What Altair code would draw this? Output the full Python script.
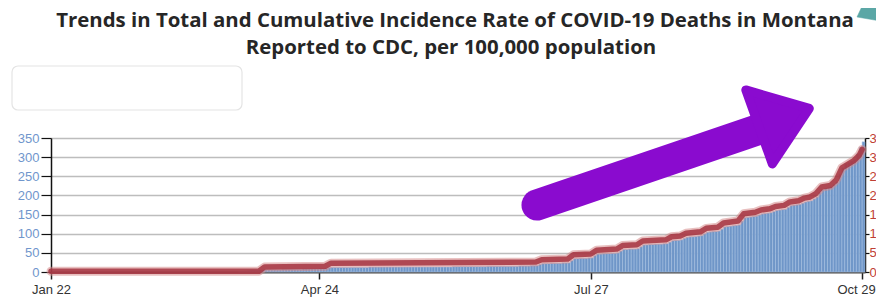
import altair as alt
import pandas as pd

# ---------------- data ----------------
bar_start = "2020-03-27"   # first day with a visible (non-zero) bar; earlier days are 0
mar = [1, 1, 2, 3, 4]
apr = [4, 4, 5, 5, 6, 6, 6, 6, 6, 6, 7, 7, 7, 7, 7, 7, 7, 8, 8, 8, 8, 8, 8, 9, 9,
       10, 12, 12, 12, 12]
may = [12, 12, 12, 12, 12, 12, 12, 12, 12, 12, 13, 13, 13, 13, 13, 13, 13, 13, 13, 13,
       13, 13, 13, 13, 13, 13, 13, 13, 13, 13, 13]
jun = [13, 13, 13, 13, 13, 13, 13, 13, 14, 14, 14, 14, 14, 14, 14, 14, 14, 14, 14, 14,
       15, 15, 15, 15, 15, 15, 15, 15, 15, 15]
jul = [15, 16, 16, 16, 16, 17, 17, 17, 20, 22, 22, 22, 23, 23, 23, 23, 24, 24, 24,
       30, 35, 35, 36, 36, 36, 37, 37, 43, 47, 47, 48]
aug = [48, 48, 49, 49, 50, 55, 59, 59, 60, 60, 60, 61, 66, 71, 71, 72, 72, 73, 73, 73,
       74, 74, 78, 82, 83, 83, 84, 88, 91, 92, 92]
sep = [93, 94, 95, 100, 104, 105, 106, 106, 107, 112, 118, 119, 120, 121, 122, 123,
       133, 142, 143, 144, 145, 146, 149, 152, 153, 154, 155, 158, 161, 162]
oct_ = [163, 164, 169, 174, 175, 176, 177, 180, 183, 185, 186, 191, 196, 208, 215, 218,
        220, 222, 228, 235, 255, 272, 283, 286, 290, 294, 309, 326, 340]
bar_values = mar + apr + may + jun + jul + aug + sep + oct_

line_dates = ["2020-01-22", "2020-04-03", "2020-04-05", "2020-04-26", "2020-04-28",
              "2020-07-08", "2020-07-10", "2020-07-19", "2020-07-21", "2020-07-27",
              "2020-07-29", "2020-08-05", "2020-08-07", "2020-08-12", "2020-08-14",
              "2020-08-22", "2020-08-24", "2020-08-27", "2020-08-29", "2020-09-03",
              "2020-09-05", "2020-09-09", "2020-09-11", "2020-09-16", "2020-09-18",
              "2020-09-22", "2020-09-24", "2020-09-27", "2020-09-29", "2020-10-02",
              "2020-10-04", "2020-10-07", "2020-10-09", "2020-10-11", "2020-10-13",
              "2020-10-15", "2020-10-18", "2020-10-20", "2020-10-22", "2020-10-26",
              "2020-10-28", "2020-10-29"]
line_rates = [0.2, 0.2, 1.3, 1.5, 2.3, 2.6, 3.2, 3.4, 4.5, 4.7, 5.7, 6.0, 6.9, 7.1, 8.1,
              8.4, 9.2, 9.4, 10.1, 10.5, 11.4, 11.7, 12.8, 13.3, 15.2, 15.6, 16.2, 16.5,
              17.1, 17.4, 18.3, 18.6, 19.3, 19.6, 20.5, 22.2, 22.6, 24.0, 27.2, 29.0,
              30.5, 32.0]

x_ticks = [(2020, 1, 22), (2020, 4, 24), (2020, 7, 27), (2020, 10, 29)]
left_ticks = [0, 50, 100, 150, 200, 250, 300, 350]
right_ticks = [0, 5, 10, 15, 20, 25, 30, 35]
title_line1 = "Trends in Total and Cumulative Incidence Rate of COVID-19 Deaths in Montana"
title_line2 = "Reported to CDC, per 100,000 population"

# ---------------- tables ----------------
bar_df = pd.DataFrame({
    "date": pd.date_range(bar_start, periods=len(bar_values), freq="D").strftime("%Y-%m-%d"),
    "deaths": bar_values,
})
line_df = pd.DataFrame({"date": line_dates, "rate": line_rates})
one = pd.DataFrame({"k": [0]})

W, H = 814, 134
AXIS_FONT = "Liberation Sans"

xscale = alt.Scale(type="utc", nice=False,
                   domain=[alt.DateTime(year=2020, month=1, date=22, utc=True),
                           alt.DateTime(year=2020, month=10, date=30, utc=True)])
x_axis = alt.Axis(values=[alt.DateTime(year=y, month=m, date=d, utc=True) for y, m, d in x_ticks],
                  format="%b %d", title=None, grid=False, labelFont=AXIS_FONT, labelFontSize=13,
                  labelColor="#333333", tickColor="#222222", tickSize=7, tickWidth=1.5,
                  domainColor="#555555", domainWidth=2, labelPadding=4, labelFlush=False,
                  labelOffset={"condition": {"test": "utcmonth(datum.value) == 9", "value": -6},
                               "value": 0})

left_axis = alt.Axis(values=left_ticks, title=None, grid=True, gridColor="#bdbdbd", gridWidth=1.5,
                     labelFont=AXIS_FONT, labelFontSize=13, labelColor="#7096cc",
                     domainColor="#111111", domainWidth=1.5, tickColor="#111111", tickSize=10,
                     tickWidth=1.2, labelPadding=2)

right_axis = alt.Axis(values=right_ticks, orient="right", title=None, grid=False,
                      labelFont=AXIS_FONT, labelFontSize=13, labelColor="#bf3f34",
                      domainColor="#111111", domainWidth=1.5, tickColor="#111111", tickSize=4,
                      tickWidth=1.2, labelPadding=0,
                      labelExpr="substring(datum.label, 0, 1)")

bars = alt.Chart(bar_df).transform_calculate(
    end="timeOffset('date', datum.date, 1)"
).mark_bar(fill="#6f96c8", stroke="#a9c2e2", strokeWidth=0.5).encode(
    x=alt.X("date:T", scale=xscale, axis=x_axis),
    x2="end:T",
    y=alt.Y("deaths:Q", scale=alt.Scale(domain=[0, 350]), axis=left_axis),
    y2=alt.datum(0),
)

glow = alt.Chart(line_df).mark_line(color="#d58b8b", strokeWidth=9, opacity=0.55,
                                    strokeJoin="round", strokeCap="round").encode(
    x=alt.X("date:T", scale=xscale),
    y=alt.Y("rate:Q", scale=alt.Scale(domain=[0, 35]), axis=None),
)
core = alt.Chart(line_df).mark_line(color="#a53340", strokeWidth=5.5, opacity=0.85,
                                    strokeJoin="round", strokeCap="round").encode(
    x=alt.X("date:T", scale=xscale),
    y=alt.Y("rate:Q", scale=alt.Scale(domain=[0, 35]), axis=right_axis),
)

# ---------------- title and decorations of the slide ----------------
TITLE_FONT = "Open Sans"
t1 = alt.Chart(one).mark_text(font=TITLE_FONT, fontSize=20.4, fontWeight="bold", color="#262626",
                              align="center", baseline="alphabetic").encode(
    x=alt.value(404), y=alt.value(-111), text=alt.value(title_line1))
t2 = alt.Chart(one).mark_text(font=TITLE_FONT, fontSize=20.4, fontWeight="bold", color="#262626",
                              align="center", baseline="alphabetic").encode(
    x=alt.value(400), y=alt.value(-84), text=alt.value(title_line2))

PURPLE = "#8a0bcf"
shaft = alt.Chart(one).mark_rule(color=PURPLE, strokeWidth=31, strokeCap="round").encode(
    x=alt.value(486), y=alt.value(67), x2=alt.value(712), y2=alt.value(-10))
head = alt.Chart(one).mark_point(
    shape="M33.3,-12.3L-30.2,-30.8L-3.7,43.3Z", size=4, filled=True, fill=PURPLE,
    stroke=PURPLE, strokeWidth=9, strokeJoin="round", opacity=1).encode(
    x=alt.value(725), y=alt.value(-17.3))
teal = alt.Chart(one).mark_point(
    shape="M-4,-12L16,-12L16,12L-13,7Z", size=4, filled=True, fill="#5ba7a6",
    stroke="#5ba7a6", strokeWidth=0.5, opacity=1).encode(
    x=alt.value(819), y=alt.value(-128))
box = alt.Chart(one).mark_rect(fill="white", stroke="#e4e4e4", strokeWidth=1.2,
                               cornerRadius=6).encode(
    x=alt.value(-39), x2=alt.value(191), y=alt.value(-72), y2=alt.value(-28))

chart = alt.layer(box, bars, glow, core, shaft, head, teal, t1, t2).resolve_scale(
    y="independent"
).properties(
    width=W, height=H,
    autosize="none",
    padding={"left": 43, "top": 130, "right": 11, "bottom": 25},
).configure_view(stroke=None)

chart.save("out.html", embed_options={"renderer": "svg", "actions": False})
